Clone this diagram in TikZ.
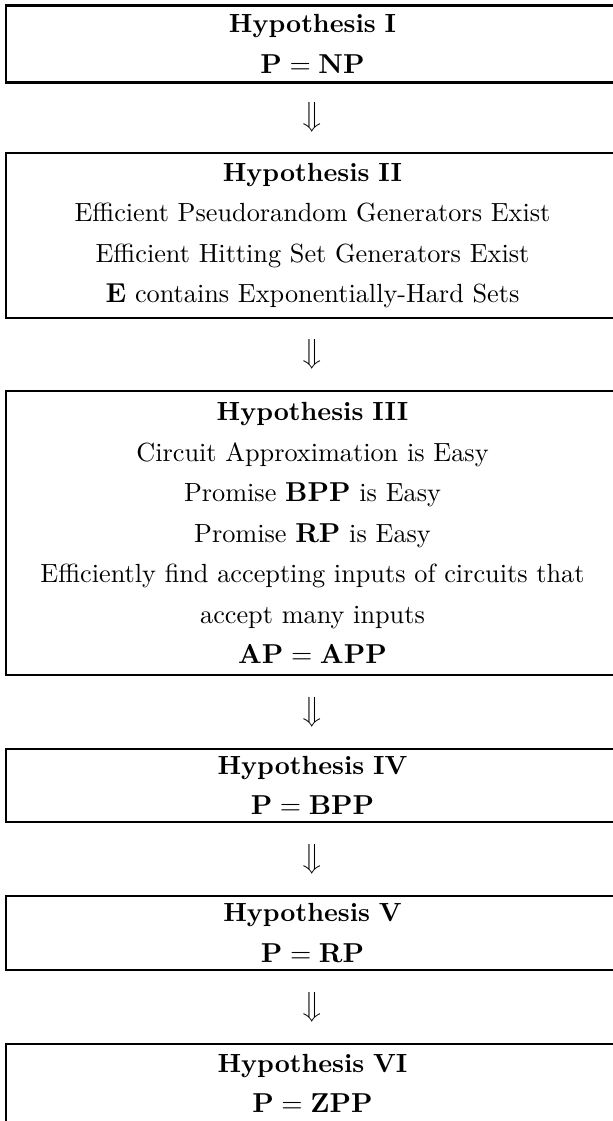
\documentclass[tikz,border=0pt]{standalone}
\usetikzlibrary{calc}

\tikzset{
  hypbox/.style={draw, line width=1pt, inner sep=0pt, minimum width=245.2pt,
    text width=240pt, align=center, font=\fontsize{10.5}{16.2}\selectfont},
  downarr/.style={inner sep=0pt, font=\fontsize{10.5}{12}\selectfont}
}

\begin{document}
\begin{tikzpicture}
    \useasboundingbox (0,0) rectangle (245.2pt,-448.4pt);
    % the six hypotheses
    \node[hypbox, minimum height=30.8pt] (hypI) at (125pt,-17.6pt)
      {\textbf{Hypothesis I}\\ \mbox{$\mathbf{P} = \mathbf{NP}$}};
    \node[hypbox, minimum height=66pt] (hypII) at (125pt,-94.2pt)
      {\textbf{Hypothesis II}\\ Efficient Pseudorandom Generators Exist\\
       Efficient Hitting Set Generators Exist\\
       $\mathbf{E}$ contains Exponentially-Hard Sets};
    \node[hypbox, minimum height=113.6pt] (hypIII) at (125pt,-213.2pt)
      {\textbf{Hypothesis III}\\ Circuit Approximation is Easy\\
       Promise $\mathbf{BPP}$ is Easy\\ Promise $\mathbf{RP}$ is Easy\\
       Efficiently find accepting inputs of circuits that\\
       accept many inputs\\ \mbox{$\mathbf{AP} = \mathbf{APP}$}};
    \node[hypbox, minimum height=29.2pt] (hypIV) at (125pt,-314.2pt)
      {\textbf{Hypothesis IV}\\ \mbox{$\mathbf{P} = \mathbf{BPP}$}};
    \node[hypbox, minimum height=29.6pt] (hypV) at (125pt,-373.2pt)
      {\textbf{Hypothesis V}\\ \mbox{$\mathbf{P} = \mathbf{RP}$}};
    \node[hypbox, minimum height=31.6pt] (hypVI) at (125pt,-433.4pt)
      {\textbf{Hypothesis VI}\\ \mbox{$\mathbf{P} = \mathbf{ZPP}$}};
    % implications
    \foreach \a/\b in {hypI/hypII, hypII/hypIII, hypIII/hypIV, hypIV/hypV, hypV/hypVI}
      \node[downarr] (\a-\b) at ($(\a.south)!.5!(\b.north)$) {$\big\Downarrow$};
\end{tikzpicture}
\end{document}
